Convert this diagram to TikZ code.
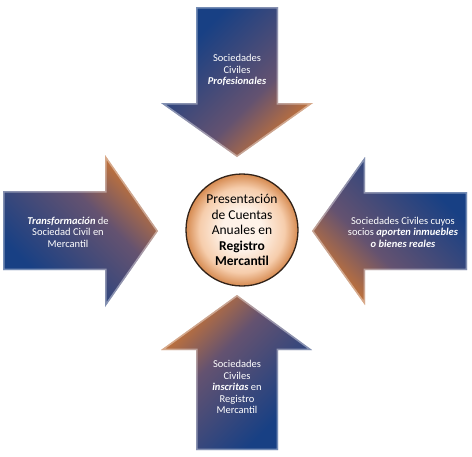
\documentclass[tikz,border=0pt]{standalone}
\usepackage{fontspec}
\setmainfont{Carlito}
\definecolor{blueA}{RGB}{24,64,132}
\definecolor{midA}{RGB}{100,82,112}
\definecolor{orangeA}{RGB}{204,118,52}
\definecolor{peachIn}{RGB}{254,242,232}
\definecolor{peachMid}{RGB}{246,205,172}
\definecolor{peachOut}{RGB}{214,138,80}
\definecolor{rimC}{RGB}{50,35,25}
\pgfdeclareverticalshading{arrowshade}{100bp}{color(0bp)=(orangeA); color(25bp)=(orangeA); color(42bp)=(midA); color(70bp)=(blueA); color(100bp)=(blueA)}
\pgfdeclareradialshading{hubshade}{\pgfpoint{0bp}{0bp}}{color(0bp)=(peachIn); color(9bp)=(peachIn); color(19bp)=(peachMid); color(25bp)=(peachOut); color(50bp)=(peachOut)}
\newcommand{\pathTopArrow}{(196,-7) -- (278,-7) -- (278,-103) -- (313,-103) -- (237,-157) -- (161,-103) -- (196,-103) -- cycle}
\newcommand{\pathBotArrow}{(237,-295) -- (312,-350) -- (278,-350) -- (278,-450) -- (196,-450) -- (196,-350) -- (161,-350) -- cycle}
\newcommand{\pathLeftArrow}{(3,-191) -- (105,-191) -- (105,-155) -- (158,-231) -- (105,-307) -- (105,-270) -- (3,-270) -- cycle}
\newcommand{\pathRightArrow}{(312,-231) -- (365,-157) -- (365,-192) -- (467,-192) -- (467,-270) -- (365,-270) -- (365,-305) -- cycle}
\begin{document}
\begin{tikzpicture}[x=1pt,y=1pt,
  arrowtxt/.style={text=white, align=center, font=\fontsize{10.5}{11.5}\selectfont, inner sep=0pt},
  arrowfill/.style={shading=arrowshade, shading angle=#1},
  bevel/.style={draw=white, draw opacity=0.4, line width=3pt, line join=miter},
  hubnode/.style={circle, minimum size=112pt, inner sep=0pt, shading=hubshade,
    draw=rimC, line width=1.3pt, align=center, font=\fontsize{13.5}{15.5}\selectfont, text=black}
]
\useasboundingbox (0,0) rectangle (472,-456);
% arrows
\shade[arrowfill=45] \pathTopArrow;
\begin{scope}\clip \pathTopArrow; \draw[bevel] \pathTopArrow; \end{scope}
\shade[arrowfill=-135] \pathBotArrow;
\begin{scope}\clip \pathBotArrow; \draw[bevel] \pathBotArrow; \end{scope}
\shade[arrowfill=135] \pathLeftArrow;
\begin{scope}\clip \pathLeftArrow; \draw[bevel] \pathLeftArrow; \end{scope}
\shade[arrowfill=-45] \pathRightArrow;
\begin{scope}\clip \pathRightArrow; \draw[bevel] \pathRightArrow; \end{scope}
% texts
\node[arrowtxt] (toptext) at (237,-70) {Sociedades\\Civiles\\\textbf{\textit{Profesionales}}};
\node[arrowtxt] (lefttext) at (68,-232) {\textbf{\textit{Transformación}} de\\Sociedad Civil en\\Mercantil};
\node[arrowtxt] (righttext) at (403,-232) {Sociedades Civiles cuyos\\socios \textbf{\textit{aporten inmuebles}}\\\textbf{\textit{o bienes reales}}};
\node[arrowtxt] (bottext) at (237,-387) {Sociedades\\Civiles\\\textbf{\textit{inscritas}} en\\Registro\\Mercantil};
% hub
\node[hubnode] (hub) at (242,-230) {Presentación\\de Cuentas\\Anuales en\\\textbf{Registro}\\\textbf{Mercantil}};
\end{tikzpicture}
\end{document}
